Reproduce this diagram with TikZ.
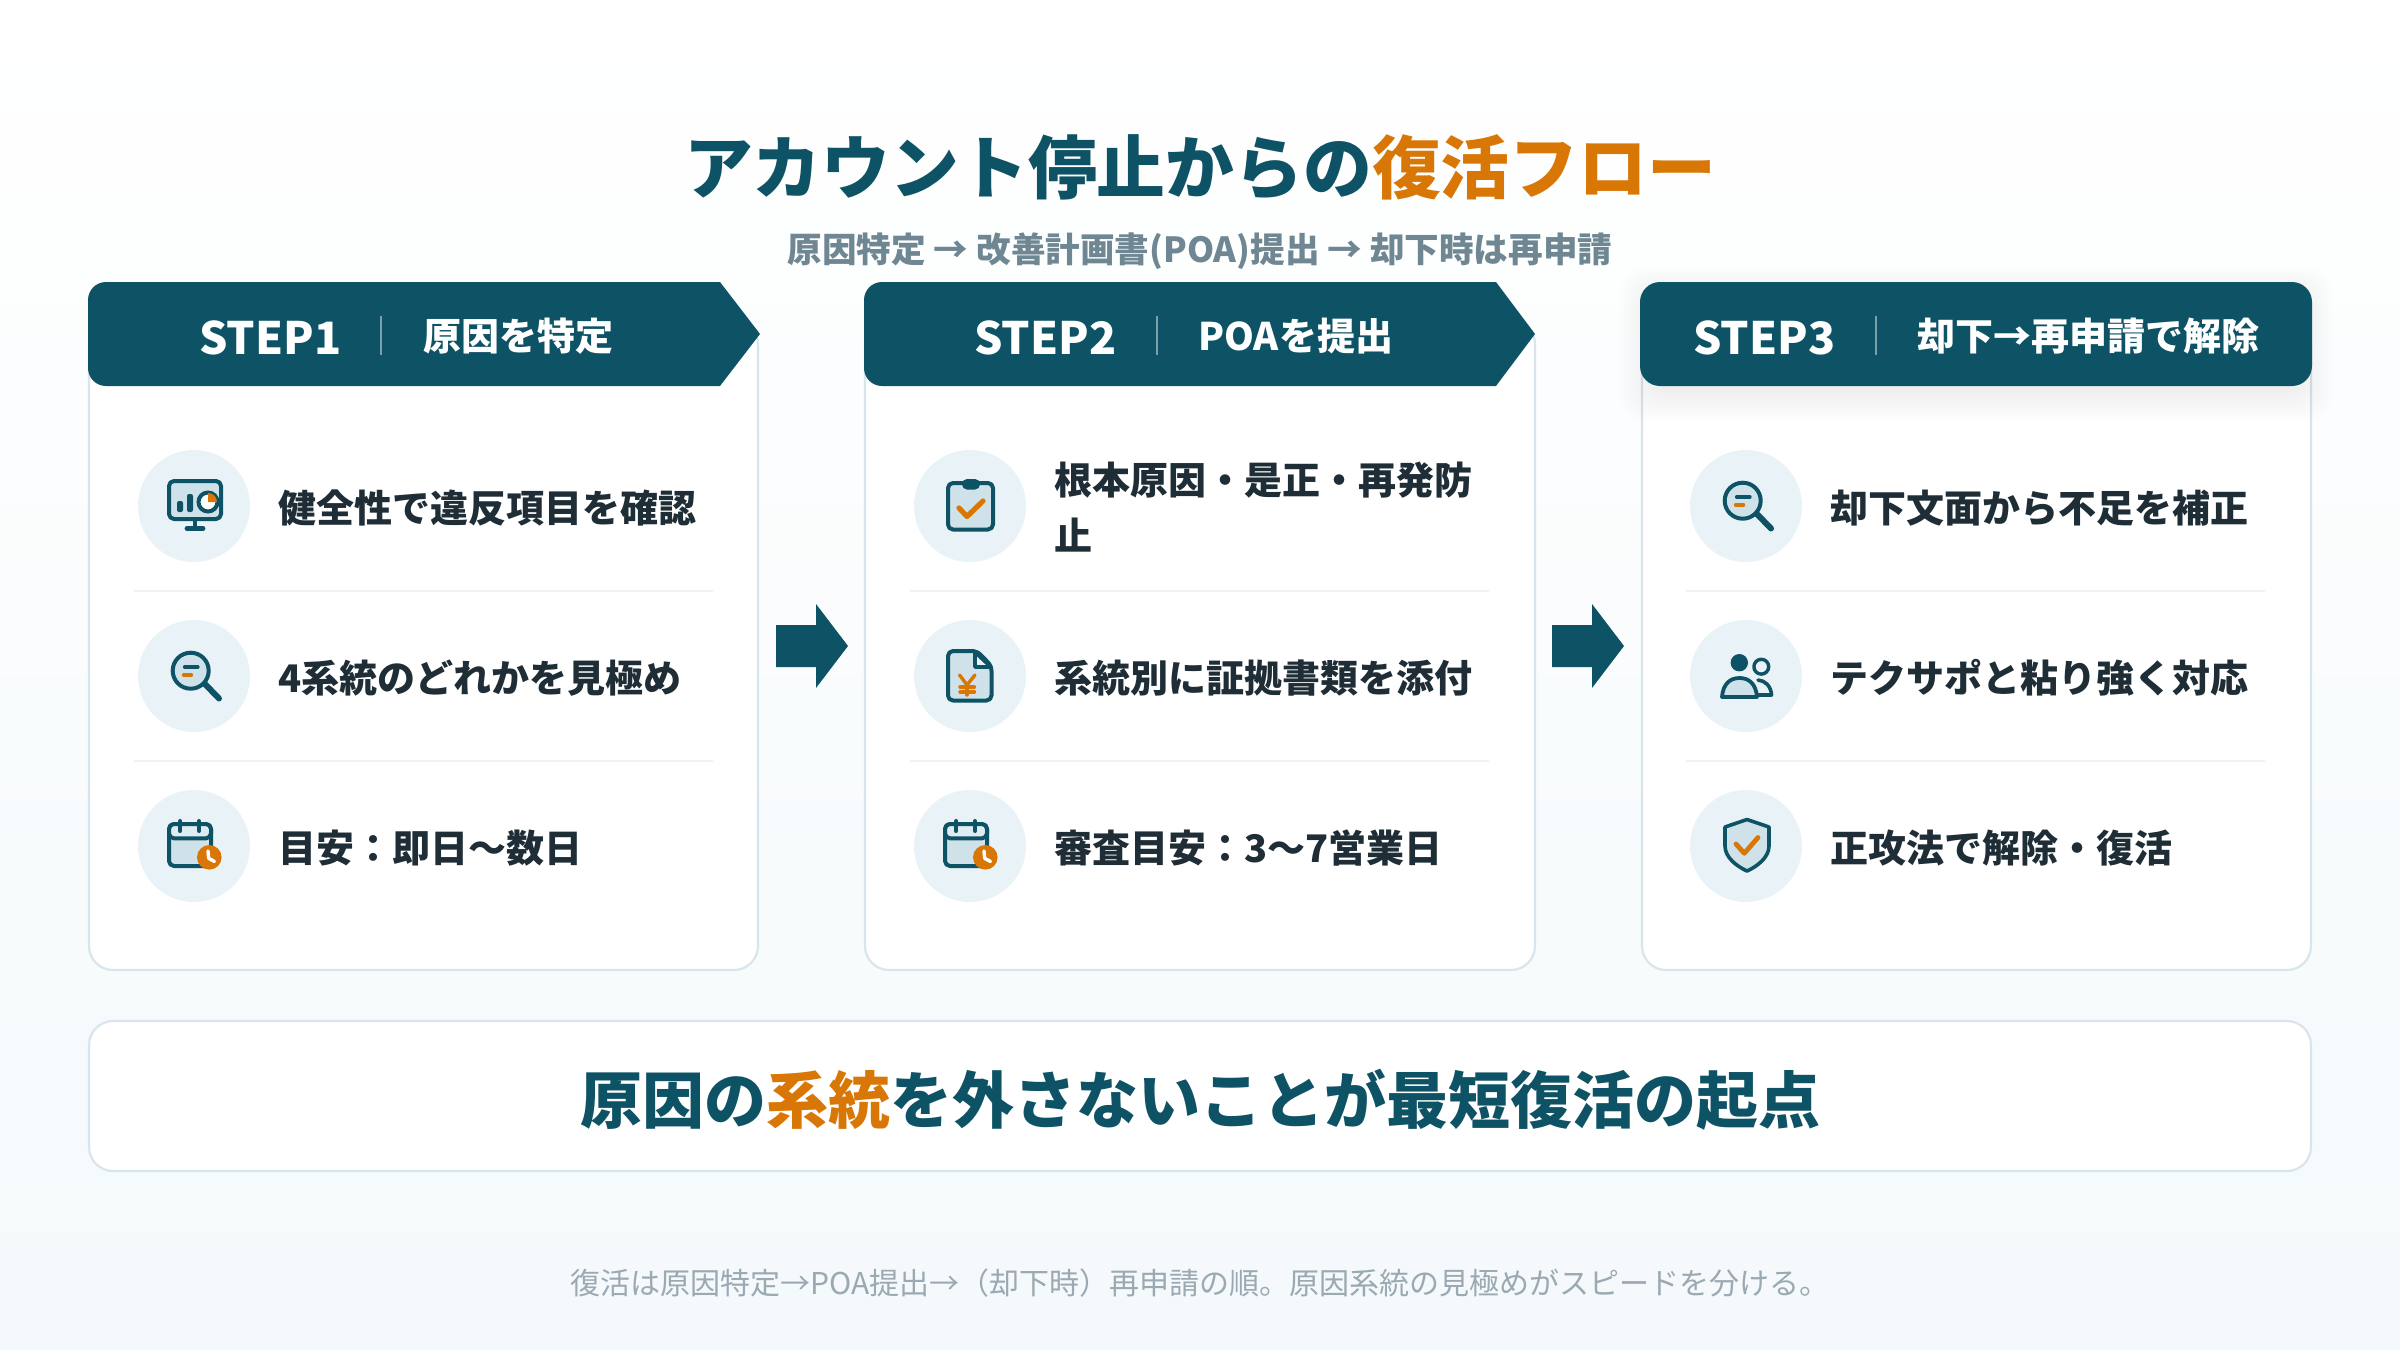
\documentclass[tikz,border=0pt]{standalone}
\usepackage{fontspec}
\setmainfont{Noto Sans CJK JP}
\definecolor{teal}{HTML}{0E5365}
\definecolor{orng}{HTML}{D97706}
\definecolor{ink}{HTML}{1F2D37}
\definecolor{subc}{HTML}{6F8793}
\definecolor{footc}{HTML}{9AA9B2}
\definecolor{disc}{HTML}{E9F2F7}
\definecolor{lite}{HTML}{CFE2EA}
\definecolor{edgec}{HTML}{D9E5ED}
\definecolor{rulec}{HTML}{EDF2F6}
\definecolor{bgbot}{HTML}{F4F9FB}
\definecolor{shadc}{HTML}{0A2A38}
\tikzset{
 card/.style={fill=white,draw=edgec,line width=1.1pt,rounded corners=12pt},
 band/.style={fill=teal},
 disc/.style={fill=disc},
 rulel/.style={draw=rulec,line width=1pt},
 sepl/.style={draw=white,draw opacity=.45,line width=.6pt},
 steptxt/.style={text=white,font=\bfseries\fontsize{22.3}{22.3}\selectfont,inner sep=0,anchor=west},
 headtxt/.style={text=white,font=\bfseries\fontsize{19}{19}\selectfont,inner sep=0,anchor=west},
 itemtxt/.style={text=ink,font=\bfseries\fontsize{19}{19}\selectfont,inner sep=0,anchor=west},
 ic/.style={draw=teal,line width=2pt,fill=lite,line join=round,line cap=round},
 icl/.style={draw=teal,line width=2pt,line cap=round,line join=round},
 ico/.style={draw=orng,line width=2.4pt,line cap=round,line join=round},
 ico2/.style={draw=orng,line width=1.7pt,line cap=round,line join=round},
 blockarrow/.style={fill=teal},
}
\newcommand{\softshadow}[7]{% x1 y1 x2 y2 spread dy opacity
 \foreach \e in {0,2,...,#5}{
  \fill[shadc,fill opacity=#7,rounded corners=12pt]
   ({#1-\e},{#2+#6-\e}) rectangle ({#3+\e},{#4+#6+\e});
 }}
\newcommand{\iconmonitor}{
 \draw[ic,rounded corners=2.5pt] (169,481) rectangle (221,519);
 \draw[icl] (195,519) -- (195,528); \draw[icl,line width=2.4pt] (187,528.5) -- (203,528.5);
 \fill[teal,rounded corners=1pt] (177,501) rectangle (183,512);
 \fill[teal,rounded corners=1pt] (187,494) rectangle (193,512);
 \draw[draw=teal,line width=2pt,fill=white] (208,502) circle (9.5);
 \fill[orng] (208,502) -- (208,493) arc[start angle=-90,end angle=0,radius=9] -- cycle;
}
\newcommand{\iconmag}{
 \draw[icl,line width=3pt] (204,683) -- (219,698.5);
 \draw[ic] (190.7,670.7) circle (18);
 \draw[icl,line width=1.6pt] (184.5,667) -- (198,667);
 \draw[ico2] (183.5,675) -- (191.5,675);
}
\newcommand{\iconcal}{
 \draw[ic,rounded corners=2.5pt] (169,824) rectangle (211,866);
 \fill[disc!60!lite] (170,825) rectangle (210,838);
 \draw[icl,rounded corners=2.5pt] (169,838.3) -- (169,824) -- (211,824) -- (211,838.3) -- cycle;
 \draw[icl] (180.3,821) -- (180.3,831);
 \draw[icl] (199,821) -- (199,831);
 \fill[orng] (209.3,857.3) circle (12.3);
 \draw[draw=white,line width=1.7pt,line cap=round,line join=round] (208,851) -- (208.7,858.3) -- (214.5,861.5);
}
\newcommand{\iconclip}{
 \draw[ic,rounded corners=2.5pt] (948,483) rectangle (993,529.5);
 \fill[teal,rounded corners=2.5pt] (962,479) rectangle (980,489.5);
 \draw[ico,line width=2.6pt] (959,508) -- (967,516.5) -- (983,501);
}
\newcommand{\icondoc}{
 \draw[ic,rounded corners=2.5pt] (948,651) -- (977,651) -- (991.5,666) -- (991.5,700.5) -- (948,700.5) -- cycle;
 \draw[draw=teal,line width=1.9pt,fill=disc,line join=round] (975,652) -- (975,667) -- (991,667) -- cycle;
 \draw[ico2] (959.5,675) -- (967,685) -- (975,675);
 \draw[ico2] (967,685) -- (967,695);
 \draw[ico2] (960,687) -- (974.5,687);
 \draw[ico2] (960,692) -- (974.5,692);
}
\newcommand{\iconpeople}{
 \fill[teal] (1739.3,662.7) circle (8.7);
 \draw[ic,fill=disc,line width=1.7pt] (1761.3,666.7) circle (7.4);
 \draw[icl,line width=1.8pt] (1758,680) .. controls (1765,680.5) and (1771,686) .. (1771.5,695) -- (1755,695);
 \draw[ic,line width=1.9pt] (1722,697) .. controls (1723,684) and (1730,678) .. (1739.5,678) .. controls (1749,678) and (1756,684) .. (1757,697) -- cycle;
}
\newcommand{\iconshield}{
 \draw[ic,line width=1.8pt] (1747,819.5) -- (1725,827) -- (1725,846) .. controls (1725,857) and (1736,866) .. (1747,871) .. controls (1758,866) and (1769,857) .. (1769,846) -- (1769,827) -- cycle;
 \draw[ico] (1736,844) -- (1744.3,853.3) -- (1758,837.5);
}
\begin{document}
\begin{tikzpicture}[x=0.5pt,y=-0.5pt]
\useasboundingbox (0,0) rectangle (2400,1350);
\shade[top color=white,bottom color=bgbot] (0,0) rectangle (2400,1350);

% cards
\softshadow{89}{320}{758}{970}{24}{8}{0.0018}
\softshadow{865}{320}{1535}{970}{24}{8}{0.0018}
\softshadow{1642}{320}{2311}{970}{24}{8}{0.0018}
\softshadow{89}{1021}{2311}{1171}{24}{8}{0.0018}
\draw[card] (89,320) rectangle (758,970);
\draw[card] (865,320) rectangle (1535,970);
\draw[card] (1642,320) rectangle (2311,970);
\draw[card] (89,1021) rectangle (2311,1171);

% headers
\path[band] (720,282) -- (760,334) -- (720,386) [rounded corners=9pt] -- (88,386) -- (88,282) [sharp corners] -- (720,282) -- cycle;
\path[band] (1496,282) -- (1535,334) -- (1496,386) [rounded corners=9pt] -- (864,386) -- (864,282) [sharp corners] -- (1496,282) -- cycle;
\softshadow{1650}{288}{2302}{384}{30}{8}{0.004}
\path[band,rounded corners=10pt] (1640,282) rectangle (2312,386);

% header texts
\node[steptxt] (s1) at (199,338) {STEP1};
\draw[sepl] (381,316) -- (381,355);
\node[headtxt] (h1) at (423,336) {原因を特定};
\node[steptxt] (s2) at (974,338) {STEP2};
\draw[sepl] (1157,316) -- (1157,355);
\node[headtxt] (h2) at (1198,336) {POAを提出};
\node[steptxt] (s3) at (1693,338) {STEP3};
\draw[sepl] (1876,316) -- (1876,355);
\node[headtxt] (h3) at (1917,336) {却下→再申請で解除};

% discs and rules
\foreach \cx in {194,970,1746}{
 \foreach \cy in {506,676,846}{\fill[disc] (\cx,\cy) circle (56);}
 \draw[rulel] ({\cx-60},591) -- ({\cx+519},591);
 \draw[rulel] ({\cx-60},761) -- ({\cx+519},761);
}

% icons
\iconmonitor
\iconmag
\iconcal
\iconclip
\icondoc
\begin{scope}[shift={(776,0)}]\iconcal\end{scope}
\begin{scope}[shift={(1552,-170)}]\iconmag\end{scope}
\iconpeople
\iconshield

% item texts
\node[itemtxt] (a1) at (278,508) {健全性で違反項目を確認};
\node[itemtxt] (a2) at (278,678) {4系統のどれかを見極め};
\node[itemtxt] (a3) at (278,848) {目安：即日〜数日};
\node[itemtxt] (b1a) at (1054,480) {根本原因・是正・再発防};
\node[itemtxt] (b1b) at (1054,535) {止};
\node[itemtxt] (b2) at (1054,678) {系統別に証拠書類を添付};
\node[itemtxt] (b3) at (1054,848) {審査目安：3〜7営業日};
\node[itemtxt] (c1) at (1830,508) {却下文面から不足を補正};
\node[itemtxt] (c2) at (1830,678) {テクサポと粘り強く対応};
\node[itemtxt] (c3) at (1830,848) {正攻法で解除・復活};

% block arrows
\fill[blockarrow] (776,625) -- (816,625) -- (816,604) -- (848,646) -- (816,688) -- (816,667) -- (776,667) -- cycle;
\fill[blockarrow] (1552,625) -- (1592,625) -- (1592,604) -- (1624,646) -- (1592,688) -- (1592,667) -- (1552,667) -- cycle;

% titles
\node[inner sep=0,font=\bfseries\fontsize{34.4}{34.4}\selectfont,text=teal] (title) at (1200,167) {アカウント停止からの\textcolor{orng}{復活フロー}};
\node[inner sep=0,font=\bfseries\fontsize{17.3}{17.3}\selectfont,text=subc] (sub) at (1200,251) {原因特定 → 改善計画書(POA)提出 → 却下時は再申請};
\node[inner sep=0,font=\bfseries\fontsize{31}{31}\selectfont,text=teal] (banner) at (1200,1100) {原因の\textcolor{orng}{系統}を外さないことが最短復活の起点};
\node[inner sep=0,font=\fontsize{15}{15}\selectfont,text=footc] (foot) at (1200,1283) {復活は原因特定→POA提出→（却下時）再申請の順。原因系統の見極めがスピードを分ける。};
\end{tikzpicture}
\end{document}
